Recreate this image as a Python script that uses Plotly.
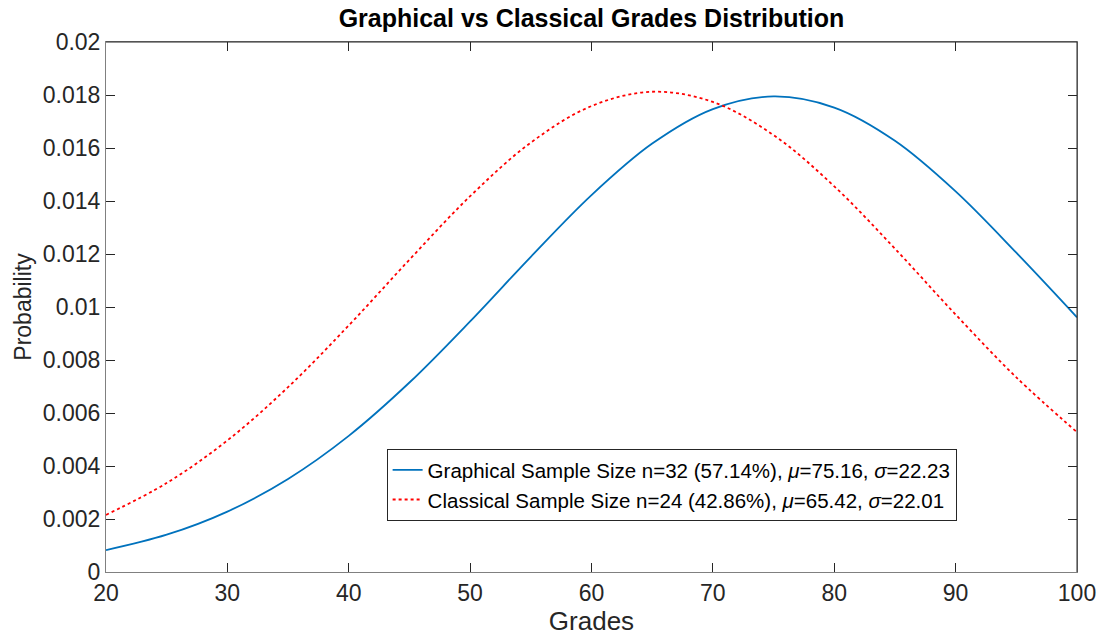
import plotly.graph_objects as go

grades = [20, 25, 30, 35, 40, 45, 50, 55, 60, 65, 70, 75, 80, 85, 90, 95, 100]
graphical_prob = [0.000826, 0.001407, 0.002280, 0.003513, 0.005138, 0.007150, 0.009458,
                  0.011895, 0.014222, 0.016166, 0.017469, 0.017946, 0.017526, 0.016272,
                  0.014362, 0.012049, 0.009612]
classical_prob = [0.002155, 0.003357, 0.004965, 0.006975, 0.009304, 0.011785, 0.014181,
                  0.016204, 0.017583, 0.018122, 0.017737, 0.016487, 0.014554, 0.012202,
                  0.009715, 0.007346, 0.005276]

graphical_name = "Graphical Sample Size n=32 (57.14%), <i>μ</i>=75.16, <i>σ</i>=22.23"
classical_name = "Classical Sample Size n=24 (42.86%), <i>μ</i>=65.42, <i>σ</i>=22.01"

x_ticks = [20, 30, 40, 50, 60, 70, 80, 90, 100]
y_ticks = [0, 0.002, 0.004, 0.006, 0.008, 0.01, 0.012, 0.014, 0.016, 0.018, 0.02]
y_tick_text = ["0", "0.002", "0.004", "0.006", "0.008", "0.01", "0.012", "0.014",
               "0.016", "0.018", "0.02"]

fig = go.Figure()
fig.add_trace(go.Scatter(x=grades, y=graphical_prob, mode="lines", name=graphical_name,
                         line=dict(color="#0072BD", width=1.8, shape="spline", smoothing=1.0)))
fig.add_trace(go.Scatter(x=grades, y=classical_prob, mode="lines", name=classical_name,
                         line=dict(color="#FF0000", width=1.8, dash="dot", shape="spline", smoothing=1.0)))

font_family = "Liberation Sans, Arial, sans-serif"
fig.update_layout(
    width=1099, height=638,
    margin=dict(l=106, r=22, t=42, b=66),
    paper_bgcolor="white", plot_bgcolor="white",
    font=dict(family=font_family, color="#262626"),
    title=dict(text="<b>Graphical vs Classical Grades Distribution</b>", x=0.5, xref="paper",
               xanchor="center", y=0.972, yanchor="middle",
               font=dict(size=25, color="black", family=font_family)),
    showlegend=True,
    legend=dict(x=0.289, y=0.232, xanchor="left", yanchor="top",
                bgcolor="white", bordercolor="#262626", borderwidth=1,
                font=dict(size=20.5, color="black", family=font_family),
                tracegroupgap=0, itemwidth=30),
    xaxis=dict(range=[20, 100], tickvals=x_ticks, ticks="inside", ticklen=9, tickwidth=1,
               tickcolor="#262626", showline=True, linecolor="#808080", linewidth=1, mirror="ticks",
               showgrid=False, zeroline=False, automargin=False,
               tickfont=dict(size=23, color="#262626"),
               title=dict(text="Grades", font=dict(size=26, color="#262626"), standoff=2)),
    yaxis=dict(range=[0, 0.02], tickvals=y_ticks, ticktext=y_tick_text, ticks="inside", ticklen=9,
               tickwidth=1, tickcolor="#262626", showline=True, linecolor="#808080", linewidth=1,
               mirror="ticks", showgrid=False, zeroline=False, automargin=False,
               tickfont=dict(size=23, color="#262626"),
               title=dict(text="Probability", font=dict(size=23, color="#262626"), standoff=4)),
)
fig.add_shape(type="line", xref="paper", yref="paper", x0=0, x1=1, y0=1, y1=1,
              line=dict(color="#262626", width=1))
fig.add_shape(type="line", xref="paper", yref="paper", x0=1, x1=1, y0=0, y1=1,
              line=dict(color="#262626", width=1))

fig.write_html("out.html", config={"displayModeBar": False},
               post_script="document.body.style.margin='0';")
